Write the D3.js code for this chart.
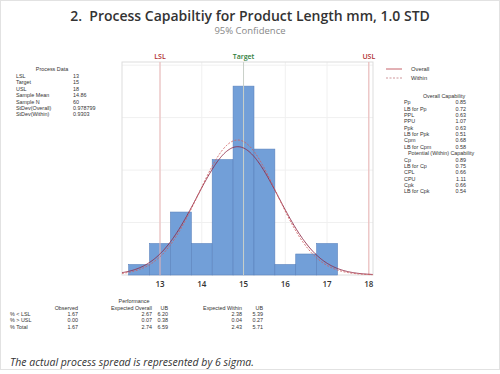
<!DOCTYPE html>
<html>
<head>
<meta charset="utf-8">
<script src="https://cdn.jsdelivr.net/npm/d3@7/dist/d3.min.js"></script>
<style>
  body { margin: 0; background: #fff; }
  text { font-family: "Open Sans", "DejaVu Sans", sans-serif; }
  text.sm { font-family: "Liberation Sans", Arial, sans-serif; font-size: 5.4px; fill: #333; }
</style>
</head>
<body>
<div id="chart"></div>
<script>
// histogram bins (midpoints) and counts
var binMids = [12.5, 13, 13.5, 14, 14.5, 15, 15.5, 16, 16.5, 17];
var binCounts = [1, 3, 6, 3, 11, 18, 12, 1, 2, 3];
var binWidth = 0.5;
var xTicks = [13, 14, 15, 16, 17, 18];

var specLimits = [
  {name: 'LSL', value: 13},
  {name: 'Target', value: 15},
  {name: 'USL', value: 18}
];

var sampleMean = 14.86, sampleN = 60;
var sdOverall = 0.978799, sdWithin = 0.9303;

var processData = [
  ['LSL', '13'], ['Target', '15'], ['USL', '18'], ['Sample Mean', '14.86'],
  ['Sample N', '60'], ['StDev(Overall)', '0.978799'], ['StDev(Within)', '0.9303']
];
var overallCap = [
  ['Pp', '0.85'], ['LB for Pp', '0.72'], ['PPL', '0.63'], ['PPU', '1.07'],
  ['Ppk', '0.63'], ['LB for Ppk', '0.51'], ['Cpm', '0.68'], ['LB for Cpm', '0.58']
];
var withinCap = [
  ['Cp', '0.89'], ['LB for Cp', '0.75'], ['CPL', '0.66'], ['CPU', '1.11'],
  ['Cpk', '0.66'], ['LB for Cpk', '0.54']
];
var perfCols = ['Observed', 'Expected Overall', 'UB', 'Expected Within', 'UB'];
var perfRows = ['% < LSL', '% > USL', '% Total'];
var perfVals = [
  ['1.67', '2.67', '6.20', '2.38', '5.39'],
  ['0.00', '0.07', '0.38', '0.04', '0.27'],
  ['1.67', '2.74', '6.59', '2.43', '5.71']
];

var W = 500, H = 374;
var svg = d3.select('#chart').append('svg').attr('width', W).attr('height', H);

svg.append('rect').attr('x', 0.5).attr('y', 0.5).attr('width', W - 1).attr('height', H - 5)
  .attr('fill', '#fff').attr('stroke', '#e2e2e2');

// titles
svg.append('text').attr('x', 250).attr('y', 21).attr('text-anchor', 'middle')
  .style('font-size', '14px').style('font-weight', 600).attr('fill', '#333')
  .attr('xml:space', 'preserve')
  .text('2.  Process Capabiltiy for Product Length mm, 1.0 STD');
svg.append('text').attr('x', 250).attr('y', 34).attr('text-anchor', 'middle')
  .style('font-size', '9.5px').attr('fill', '#888').text('95% Confidence');

// plot area
var plot = {left: 122, right: 373, top: 62, bottom: 275};
var x = d3.scaleLinear().domain([12.09, 18.1]).range([plot.left, plot.right]);
var y = d3.scaleLinear().domain([0, 20.3]).range([plot.bottom, plot.top]);

var g = svg.append('g');

// grid
g.selectAll('line.vgrid').data(xTicks).enter().append('line')
  .attr('x1', function(d) { return x(d); }).attr('x2', function(d) { return x(d); })
  .attr('y1', plot.top).attr('y2', plot.bottom)
  .attr('stroke', '#f0f0f0');
g.selectAll('line.hgrid').data([5, 10, 15, 20]).enter().append('line')
  .attr('x1', plot.left).attr('x2', plot.right)
  .attr('y1', function(d) { return y(d); }).attr('y2', function(d) { return y(d); })
  .attr('stroke', '#f0f0f0');

g.append('rect').attr('x', plot.left).attr('y', plot.top)
  .attr('width', plot.right - plot.left).attr('height', plot.bottom - plot.top)
  .attr('fill', 'none').attr('stroke', '#ddd');

// bars
g.selectAll('rect.bar').data(binMids).enter().append('rect')
  .attr('class', 'bar')
  .attr('x', function(d) { return x(d - binWidth / 2); })
  .attr('width', function(d) { return x(d + binWidth / 2) - x(d - binWidth / 2); })
  .attr('y', function(d, i) { return y(binCounts[i]); })
  .attr('height', function(d, i) { return y(0) - y(binCounts[i]); })
  .attr('fill', '#729fd8').attr('stroke', '#5a82bd').attr('stroke-width', 0.6);

// spec lines
var specColor = {LSL: '#b03030', Target: '#2e7d3a', USL: '#b03030'};
var lineColor = {LSL: '#eab4b4', Target: '#c9d0c9', USL: '#eab4b4'};
specLimits.forEach(function(s) {
  g.append('line').attr('x1', x(s.value)).attr('x2', x(s.value))
    .attr('y1', plot.top).attr('y2', plot.bottom)
    .attr('stroke', lineColor[s.name]).attr('stroke-width', 1);
  g.append('text').attr('x', x(s.value)).attr('y', 59).attr('text-anchor', 'middle')
    .style('font-size', '7px').style('font-weight', 600).attr('fill', specColor[s.name])
    .text(s.name);
});

// normal curves
function normCurve(sd) {
  var pts = d3.range(x.domain()[0], x.domain()[1] + 0.001, 0.02);
  return pts.map(function(v) {
    var z = (v - sampleMean) / sd;
    return [v, sampleN * binWidth * Math.exp(-0.5 * z * z) / (sd * Math.sqrt(2 * Math.PI))];
  });
}
var line = d3.line().x(function(d) { return x(d[0]); }).y(function(d) { return y(d[1]); });
g.append('path').datum(normCurve(sdOverall)).attr('d', line)
  .attr('fill', 'none').attr('stroke', '#8e2a48').attr('stroke-width', 0.9);
g.append('path').datum(normCurve(sdWithin)).attr('d', line)
  .attr('fill', 'none').attr('stroke', '#d06060').attr('stroke-width', 0.9)
  .attr('stroke-dasharray', '2,1.5');

// x axis labels
g.selectAll('text.xt').data(xTicks).enter().append('text')
  .attr('x', function(d) { return x(d); }).attr('y', 287)
  .attr('text-anchor', 'middle').style('font-size', '8px').style('font-weight', 600)
  .attr('fill', '#333').text(function(d) { return d; });

function sm(px, py, txt, anchor) {
  return svg.append('text').attr('class', 'sm').attr('x', px).attr('y', py)
    .attr('text-anchor', anchor || 'start').text(txt);
}

// process data panel
sm(52, 71, 'Process Data', 'middle');
processData.forEach(function(r, i) {
  var yy = 78 + i * 6.4;
  sm(16, yy, r[0]);
  sm(73, yy, r[1]);
});

// legend
svg.append('line').attr('x1', 386).attr('x2', 402).attr('y1', 69).attr('y2', 69)
  .attr('stroke', '#c0505a').attr('stroke-width', 0.9);
svg.append('line').attr('x1', 386).attr('x2', 402).attr('y1', 78).attr('y2', 78)
  .attr('stroke', '#c88a90').attr('stroke-width', 0.9).attr('stroke-dasharray', '2,1.5');
sm(411, 71, 'Overall').style('font-size', '5.8px');
sm(411, 80, 'Within').style('font-size', '5.8px');

// capability tables
var capY = 98, step = 6.35;
sm(444, capY, 'Overall Capability', 'middle');
overallCap.forEach(function(r, i) {
  var yy = capY + step * (i + 1);
  sm(404, yy, r[0]);
  sm(466, yy, r[1], 'end');
});
var wY = capY + step * (overallCap.length + 1);
sm(441, wY, 'Potential (Within) Capability', 'middle');
withinCap.forEach(function(r, i) {
  var yy = wY + step * (i + 1);
  sm(404, yy, r[0]);
  sm(466, yy, r[1], 'end');
});

// performance table
var colRight = [78, 152, 168, 242, 263];
sm(134, 303, 'Performance', 'middle');
perfCols.forEach(function(c, j) {
  sm(colRight[j], 309.5, c, 'end');
});
perfRows.forEach(function(r, i) {
  var yy = 316 + i * step;
  sm(10, yy, r);
  perfVals[i].forEach(function(v, j) {
    sm(colRight[j], yy, v, 'end');
  });
});

svg.append('text').attr('x', 10).attr('y', 366)
  .style('font-size', '10.5px').style('font-style', 'italic').attr('fill', '#333')
  .text('The actual process spread is represented by 6 sigma.');
</script>
</body>
</html>
